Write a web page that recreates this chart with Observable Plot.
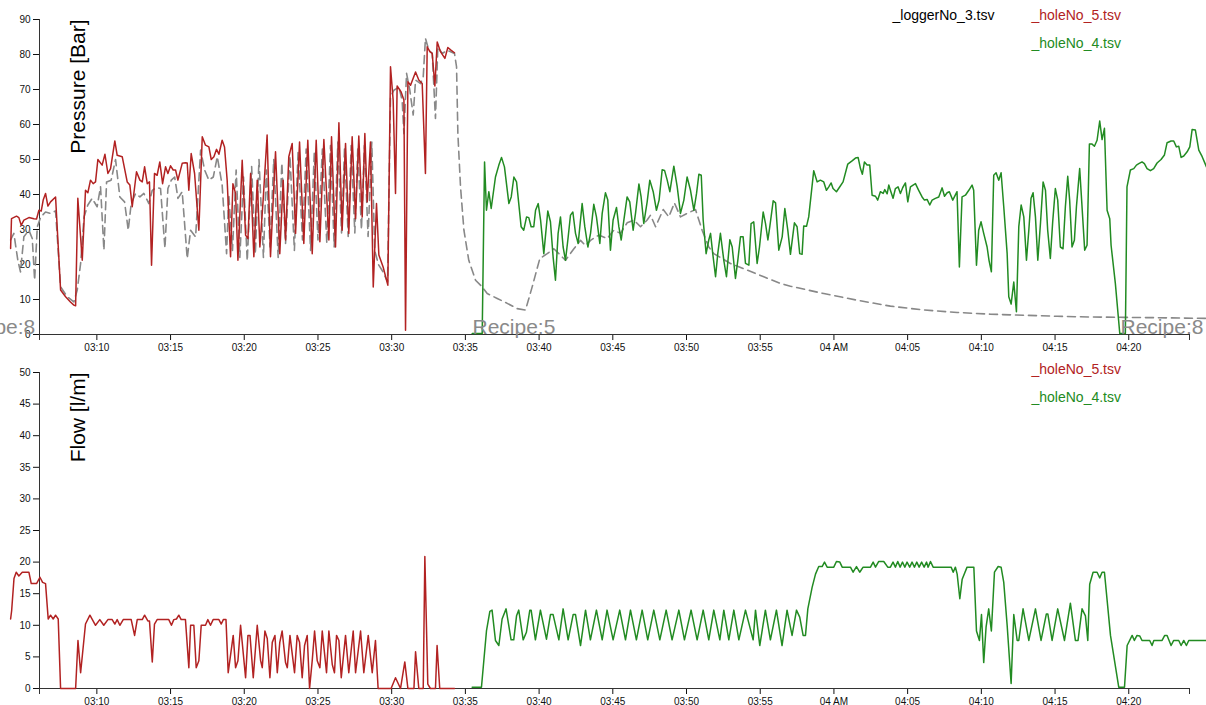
<!DOCTYPE html>
<html><head><meta charset="utf-8">
<script src="https://cdn.jsdelivr.net/npm/d3@7"></script>
<script src="https://cdn.jsdelivr.net/npm/@observablehq/plot@0.6"></script>
<style>
html,body{margin:0;padding:0;background:#fff;overflow:hidden}
#chart svg{display:block}
</style></head><body><div id="chart"></div>
<script>
// Times are minutes after 03:00.
const xStartMin = 6.11, xEndMin = 84.12;

const pressHole5Min = [4.15,4.21,4.55,4.71,4.87,5.05,5.39,5.73,5.91,6.07,6.23,6.36,6.52,6.68,6.86,7.20,7.54,7.88,8.21,8.44,8.56,8.71,9.01,9.23,9.39,9.57,9.75,9.91,10.07,10.36,10.55,10.75,10.93,11.22,11.38,11.72,12.06,12.24,12.40,12.69,12.92,13.08,13.24,13.42,13.57,13.71,13.91,14.09,14.27,14.46,14.66,14.82,15.00,15.18,15.34,15.50,15.79,16.01,16.13,16.24,16.40,16.63,16.92,17.15,17.37,17.60,17.76,17.94,18.12,18.28,18.50,18.66,18.84,19.07,19.23,19.41,19.57,19.86,20.09,20.25,20.43,20.65,20.88,21.06,21.28,21.55,21.78,22.12,22.41,22.64,22.80,23.02,23.25,23.48,23.75,24.04,24.31,24.61,24.88,25.13,25.40,25.74,25.92,26.19,26.42,26.64,26.87,27.09,27.32,27.55,27.77,28.00,28.18,28.34,28.56,28.75,28.97,29.13,29.42,29.74,29.92,30.10,30.26,30.37,30.64,30.83,30.94,31.10,31.28,31.62,31.84,32.07,32.29,32.41,32.59,32.75,32.93,33.09,33.31,33.61,33.81,34.04,34.26];
const pressHole5Val = [24.6,33.1,33.8,33.4,31.2,32.7,33.4,33.1,33.0,35.5,35.3,38.4,40.3,36.7,37.9,39.3,12.7,10.8,9.3,8.4,8.2,38.9,21.2,41.2,40.5,44.1,43.1,43.6,50.0,48.4,51.5,46.0,47.4,55.3,51.2,50.8,43.6,42.7,36.5,46.5,44.1,43.6,47.9,43.1,43.6,19.8,46.0,45.5,49.3,43.1,47.9,46.0,48.2,47.0,47.0,44.1,48.9,49.1,49.0,41.2,51.7,46.0,29.8,56.5,54.1,53.6,50.0,50.8,52.9,51.5,55.5,53.6,44.1,22.2,43.1,40.3,21.2,49.8,28.4,27.4,46.0,22.2,44.1,25.0,38.4,57.0,22.2,52.2,23.1,44.1,27.0,50.8,54.6,28.9,55.0,26.0,55.5,23.1,55.5,26.5,55.7,27.0,56.5,25.0,60.5,29.8,54.6,28.9,56.5,33.1,56.7,33.6,57.4,37.9,55.0,13.6,37.4,22.7,19.3,14.1,76.5,67.0,40.3,71.0,69.3,67.0,1.2,72.2,71.2,75.0,72.7,71.7,46.0,82.2,80.8,80.3,71.0,83.6,80.8,78.9,82.0,81.2,80.5];

const pressLoggerMin = [4.15,4.37,4.64,4.82,5.05,5.39,5.62,5.78,5.96,6.20,6.52,6.86,7.20,7.54,7.99,8.44,8.67,8.90,9.13,9.39,9.68,10.02,10.25,10.48,10.66,10.97,11.27,11.56,11.88,12.13,12.33,12.63,12.92,13.19,13.53,13.76,14.05,14.32,14.62,14.82,15.05,15.28,15.50,15.79,16.13,16.36,16.70,17.04,17.31,17.60,17.90,18.17,18.50,18.80,18.95,19.2,19.45,19.7,19.95,20.2,20.5,20.75,21.0,21.3,21.5,21.75,22.0,22.3,22.55,22.8,23.1,23.4,23.65,23.95,24.2,24.5,24.75,25.0,25.3,25.6,25.85,26.1,26.35,26.6,26.8,27.05,27.25,27.5,27.7,27.95,28.15,28.4,28.65,28.85,29.1,29.4,29.72,29.92,30.15,30.49,30.71,30.83,31.01,31.23,31.46,31.62,31.96,32.14,32.29,32.52,32.75,32.97,33.13,33.43,33.77,34.26,34.40,34.49,34.67,34.90,35.23,35.69,36.14,36.48,37.16,37.84,38.51,39.08,39.53,40.05,40.55,41.00,41.34,41.79,42.36,42.81,43.15,43.49,44.05,44.62,45.07,45.52,45.97,46.43,46.88,47.33,47.56,47.90,48.42,48.80,49.18,49.59,50.04,50.61,51.06,51.51,51.85,52.98,54.11,55.24,56.37,57.05,59.31,61.57,63.83,66.10,68.36,70.62,72.88,75.14,77.40,79.66,81.92,85.27];
const pressLoggerVal = [27.0,28.9,21.2,17.9,27.9,29.8,27.4,15.5,30.8,33.6,35.0,34.6,35.3,13.6,10.8,9.3,12.7,20.3,33.6,37.0,38.9,36.5,42.2,24.1,43.6,44.1,50.0,39.3,37.9,29.8,37.4,40.3,39.3,40.3,37.4,41.2,42.0,41.7,24.6,41.7,44.1,45.0,38.9,40.8,21.7,29.8,27.9,52.7,47.0,44.1,45.0,50.8,42.7,23.1,40,24,47,22,45,21,48,23,50,22,47,25,50,22,49,26,51,24,52,27,53,24,52,27,53,26,54,25,55,29,53,28,54,29,53,30,54,28,55,24,20,18,15,67.9,69.8,70.7,66.9,57.4,74.6,69.8,62.7,72.7,71.7,73.6,84.6,81.2,80.3,61.7,82.2,80.3,81.2,80.3,76.5,57.4,42.2,29.8,21.2,15.5,13.6,11.7,10.3,8.9,7.4,7.0,13.6,21.7,23.1,24.5,23.1,21.2,24.5,26.9,25.4,26.9,28.4,27.4,29.8,28.9,31.9,32.7,30.8,32.7,34.1,30.8,35.7,33.6,37.6,33.6,34.6,35.7,29.8,25.0,23.1,20.3,18.4,16.5,14.6,13.8,11.7,9.8,8.1,7.0,6.3,5.8,5.5,5.2,5.0,4.9,4.8,4.6];

const pressHole4Min = [35.46,36.14,36.30,36.43,36.59,36.75,37.04,37.27,37.45,37.65,37.95,38.11,38.29,38.47,38.78,38.96,39.15,39.30,39.46,39.64,39.76,39.94,40.10,40.32,40.59,40.77,40.95,41.11,41.29,41.45,41.63,41.79,41.95,42.13,42.29,42.47,42.65,42.92,43.10,43.31,43.49,43.71,43.89,44.12,44.28,44.50,44.66,44.84,45.02,45.25,45.41,45.57,45.75,45.97,46.15,46.38,46.54,46.77,46.92,47.10,47.33,47.51,47.74,47.96,48.14,48.35,48.51,48.69,48.87,49.14,49.37,49.59,49.82,50.04,50.27,50.50,50.68,50.84,51.00,51.13,51.33,51.51,51.63,51.78,51.97,52.12,52.30,52.53,52.71,52.94,53.10,53.32,53.48,53.66,53.84,54.00,54.23,54.38,54.56,54.79,54.95,55.20,55.36,55.52,55.65,55.88,56.04,56.26,56.49,56.67,56.87,57.05,57.32,57.50,57.68,57.84,57.95,58.14,58.29,58.63,58.86,59.08,59.31,59.49,59.65,59.81,59.94,60.17,60.40,60.62,60.94,61.23,61.46,61.64,61.80,61.93,62.07,62.25,62.43,62.59,62.82,62.97,63.15,63.34,63.45,63.61,63.72,63.83,64.01,64.17,64.35,64.51,64.67,64.85,65.01,65.19,65.37,65.53,65.75,65.98,66.14,66.32,66.50,66.66,66.88,67.11,67.34,67.50,67.68,67.83,68.06,68.35,68.51,68.69,68.92,69.15,69.37,69.48,69.67,69.82,69.98,70.16,70.39,70.52,70.68,70.84,71.00,71.18,71.34,71.52,71.75,71.86,72.02,72.20,72.38,72.54,72.70,72.88,73.06,73.22,73.37,73.51,73.67,73.83,74.01,74.19,74.35,74.50,74.68,74.84,75.02,75.18,75.36,75.54,75.70,75.86,75.99,76.15,76.31,76.45,76.67,76.83,77.01,77.17,77.33,77.51,77.67,77.85,78.03,78.19,78.35,78.53,78.71,78.80,79.09,79.39,79.77,79.88,80.11,80.34,80.52,80.68,80.90,81.06,81.24,81.47,81.69,81.92,82.19,82.42,82.60,82.87,83.05,83.23,83.39,83.55,83.73,83.96,84.14,84.30,84.52,84.75,84.98,85.27];
const pressHole4Val = [0.3,0.3,49.3,35.5,40.8,36.0,45.0,48.4,50.6,47.9,37.4,39.3,45.0,43.6,30.8,29.8,33.6,33.4,30.8,30.8,35.5,37.4,32.7,23.1,35.3,32.2,22.2,15.5,28.9,33.6,25.0,21.2,27.0,34.1,35.0,28.9,26.0,37.4,30.8,25.0,28.9,37.2,33.6,26.0,34.6,40.5,38.4,24.1,32.7,36.3,30.8,27.0,32.7,39.3,37.9,29.8,34.6,43.0,39.3,31.7,37.9,44.1,40.8,35.5,38.4,47.1,46.9,44.1,40.8,48.1,42.2,34.6,38.4,45.0,41.2,35.5,40.3,45.8,45.5,32.7,23.1,27.0,28.9,23.1,16.5,23.1,28.9,21.2,16.5,27.1,25.0,16.0,21.2,27.9,27.9,20.3,19.8,31.7,32.2,20.3,25.0,35.0,31.7,27.0,30.8,38.2,37.6,24.1,27.9,36.0,29.8,22.9,31.9,30.8,23.1,22.9,31.0,30.9,33.6,46.8,43.6,44.1,43.6,41.2,42.2,43.3,41.7,40.8,42.2,43.6,48.7,49.6,50.4,50.6,47.4,45.8,49.3,48.4,48.4,39.8,39.5,38.4,40.8,40.3,41.4,40.2,42.7,41.2,38.9,41.7,42.2,40.3,42.0,43.3,37.9,42.2,42.7,43.1,41.2,39.3,38.4,38.6,37.0,38.4,38.9,39.3,41.9,39.5,40.5,40.8,38.4,40.8,19.3,39.3,39.8,41.2,42.7,41.2,19.8,29.8,32.2,28.9,25.0,21.2,17.9,45.5,46.2,44.1,46.2,36.5,23.1,10.8,8.7,15.0,6.5,30.8,37.0,33.6,21.2,29.8,38.9,40.5,33.6,21.2,31.7,43.6,41.2,29.8,21.7,32.2,41.7,38.4,25.0,24.5,36.5,45.2,38.4,25.0,26.9,36.5,47.4,36.5,24.1,25.5,54.4,54.4,53.8,55.5,61.0,55.7,58.9,35.5,33.1,25.5,14.6,0.3,0.3,42.2,47.0,47.4,48.4,48.8,49.3,48.8,47.4,46.8,47.4,49.0,50.0,51.3,54.8,55.3,55.3,53.6,53.8,50.6,51.0,52.2,53.6,58.6,58.4,52.7,50.8,47.9];

const flowHole5Min = [4.15,4.22,4.38,4.53,4.71,4.94,5.39,5.55,5.91,6.14,6.32,6.52,6.70,6.86,7.04,7.20,7.38,7.54,8.56,8.72,8.90,9.23,9.53,9.91,10.20,10.47,10.75,11.04,11.22,11.38,11.56,11.79,12.33,12.56,12.74,13.08,13.24,13.46,13.57,13.76,13.91,14.09,14.88,15.06,15.22,15.40,15.56,15.72,16.01,16.24,16.36,16.58,16.74,16.92,17.08,17.37,17.53,17.71,17.89,18.28,18.44,18.58,18.76,18.91,19.25,19.41,19.57,19.75,20.09,20.25,20.39,20.61,20.88,21.11,21.22,21.40,21.56,21.74,21.90,22.08,22.24,22.41,22.57,22.80,22.92,23.10,23.41,23.59,23.75,23.93,24.09,24.27,24.43,24.61,24.77,24.95,25.13,25.29,25.58,25.74,25.97,26.12,26.26,26.42,26.58,26.87,27.09,27.39,27.55,27.89,28.11,28.41,28.68,28.90,29.08,29.96,30.26,30.60,30.89,31.10,31.51,31.62,31.84,32.14,32.25,32.45,32.63,32.97,33.08,33.26,34.26];
const flowHole5Val = [11.0,12.3,17.4,18.4,17.8,18.4,18.4,16.6,16.6,17.6,16.8,16.6,11.0,11.6,11.0,11.6,11.0,0,0,7.6,2.5,10.2,11.6,10.0,10.9,10.0,10.9,10.9,10.2,10.9,10.0,10.9,10.9,8.4,10.9,10.9,11.6,10.7,10.7,4.2,10.2,10.9,10.9,10.0,10.9,11.0,11.6,10.9,10.9,3.3,10.0,10.0,3.3,4.4,10.0,10.0,10.9,10.0,10.9,10.9,10.2,10.9,10.9,2.5,8.4,3.3,4.4,10.0,1.7,8.4,8.4,1.7,10.0,4.4,3.3,9.1,7.9,1.7,7.3,8.4,2.5,7.3,9.1,4.1,3.3,8.4,2.5,8.4,7.3,1.7,6.8,8.4,0,4.4,9.1,4.4,3.3,9.1,2.5,9.1,3.8,2.5,8.4,7.6,1.7,8.4,2.5,9.1,2.5,9.1,2.5,8.4,2.5,7.6,0,0,1.7,0,4.2,0,0,5.8,0,0,20.9,0.7,0,0,6.8,0,0];

const flowHole4Min = [35.46,36.09,36.43,36.66,36.81,37.04,37.27,37.49,37.76,38.10,38.28,38.47,38.62,38.92,39.14,39.37,39.46,39.75,40.09,40.50,40.77,40.95,41.34,41.63,41.97,42.31,42.47,42.81,43.15,43.48,43.89,44.28,44.61,45.02,45.47,45.86,46.20,46.60,46.99,47.37,47.78,48.19,48.62,49.02,49.48,49.86,50.31,50.72,51.13,51.51,51.85,52.26,52.53,52.87,53.21,53.55,54.00,54.52,54.68,54.97,55.35,55.69,56.10,56.48,56.82,57.16,57.46,57.68,57.91,58.07,58.23,58.52,58.75,58.97,59.20,59.36,59.54,59.99,60.17,60.40,60.56,61.12,61.30,61.53,61.75,61.98,62.48,62.66,62.82,63.04,63.38,63.65,63.83,64.01,64.17,64.33,64.49,64.65,64.81,64.96,65.14,65.30,65.46,65.62,65.78,65.95,66.12,66.28,66.39,66.55,66.73,67.68,67.95,68.09,68.24,68.36,68.54,68.70,69.03,69.49,69.67,69.87,70.01,70.16,70.32,70.50,70.68,70.89,71.14,71.34,71.52,71.75,72.02,72.20,72.43,72.54,72.83,73.22,73.67,74.05,74.41,74.51,74.80,75.18,75.64,76.04,76.38,76.56,76.83,77.06,77.22,77.35,77.58,77.85,78.03,78.19,78.35,78.76,79.32,79.71,79.89,80.23,80.38,80.56,80.75,80.90,81.42,81.58,81.70,82.26,82.44,82.60,82.87,83.05,83.39,83.55,83.73,83.91,84.07,85.27];
const flowHole4Val = [0.2,0.2,9.1,12.2,12.4,7.6,6.8,11.0,12.6,7.7,7.7,11.5,12.4,7.7,8.9,12.4,12.4,7.7,12.4,7.8,11.7,11.7,7.7,12.6,7.7,11.7,11.7,6.8,12.4,7.7,12.4,7.7,12.4,7.7,12.4,7.7,12.4,7.7,12.4,7.7,12.4,7.7,12.4,7.7,12.4,7.7,12.4,7.7,12.4,7.7,12.4,7.7,12.4,7.7,12.4,7.7,12.4,7.7,12.4,6.8,12.4,7.7,12.4,6.8,12.4,8.4,12.4,11.3,8.4,8.4,12.6,16.0,18.1,19.3,19.3,20.0,19.2,19.2,20.1,20.0,19.2,19.2,18.4,19.3,18.4,19.2,19.2,20.0,19.2,20.1,20.1,19.2,19.2,20.0,19.2,20.1,19.2,20.0,19.2,20.0,19.2,20.0,19.2,20.0,19.2,20.0,19.2,20.0,19.2,20.1,19.2,19.2,19.2,18.4,19.2,18.1,14.2,17.3,19.2,19.2,9.1,7.6,11.7,4.1,9.7,12.6,9.1,18.4,19.3,19.2,16.8,10.0,0.8,11.7,7.6,7.6,12.6,7.6,12.6,7.6,11.8,11.8,7.6,12.6,7.6,13.5,7.6,7.6,12.6,11.5,7.6,16.5,18.4,18.4,17.5,18.4,18.4,8.4,0.2,0.2,6.8,8.4,7.6,8.4,8.3,7.6,7.6,6.8,7.6,7.6,8.4,8.4,6.8,7.6,7.6,6.8,7.6,6.8,7.6,7.6];

const recipeNames = ["Recipe:8", "Recipe:5", "Recipe:8"];
const recipeMin = [0.2, 35.48, 79.44];

const pressureTicks = [0,10,20,30,40,50,60,70,80,90];
const flowTicks = [0,5,10,15,20,25,30,35,40,45,50];
const pressureLegend = ["_loggerNo_3.tsv", "_holeNo_5.tsv", "_holeNo_4.tsv"];
const flowLegend = ["_holeNo_5.tsv", "_holeNo_4.tsv"];

// ---- build ----
const BASE = new Date(2017, 5, 1, 3, 0, 0);
const toDate = m => new Date(BASE.getTime() + Math.round(m * 60000));
const series = (mins, vals) => mins.map((m, i) => ({t: toDate(m), v: vals[i]}));
const xDomain = [toDate(xStartMin), toDate(xEndMin)];
const xTicks = d3.timeMinute.every(5).range(xDomain[0], xDomain[1]);
const fmtH = d3.timeFormat("%I %p"), fmtM = d3.timeFormat("%I:%M");
const tickFormat = d => d.getMinutes() === 0 ? fmtH(d) : fmtM(d);
const recipes = recipeMin.map((m, i) => ({t: toDate(m), name: recipeNames[i]}));

const FONT = "'Liberation Sans', Arial, Helvetica, sans-serif";
const RED = "#b22222", GREEN = "#228b22", GRAY = "#888", AXIS = "#333";

function axisMarks() {
  return [
    Plot.ruleY([0], {stroke: AXIS}),
    Plot.ruleX([xDomain[0]], {stroke: AXIS}),
    Plot.ruleX(xDomain, {y1: () => 0, y2: () => 0, insetBottom: -6, stroke: AXIS})
  ];
}

const pressurePlot = Plot.plot({
  width: 1206, height: 353,
  marginLeft: 39, marginRight: 17, marginTop: 19, marginBottom: 19,
  style: {fontFamily: FONT, fontSize: "10px", color: "#111", background: "#fff"},
  x: {type: "time", domain: xDomain, ticks: xTicks, tickFormat, label: null, tickSize: 6},
  y: {domain: [0, 90], ticks: pressureTicks, label: null, tickSize: 6},
  marks: [
    ...axisMarks(),
    Plot.line(series(pressLoggerMin, pressLoggerVal), {x: "t", y: "v", stroke: GRAY, strokeWidth: 1.6, strokeDasharray: "8,5"}),
    Plot.line(series(pressHole5Min, pressHole5Val), {x: "t", y: "v", stroke: RED, strokeWidth: 1.5}),
    Plot.line(series(pressHole4Min, pressHole4Val), {x: "t", y: "v", stroke: GREEN, strokeWidth: 1.5}),
    Plot.text(recipes, {x: "t", text: "name", frameAnchor: "bottom", textAnchor: "start", lineAnchor: "bottom", dy: -1, fontSize: 21, fill: "#8a8a8a"}),
    Plot.text(["Pressure [Bar]"], {frameAnchor: "top-left", dx: 31, rotate: -90, textAnchor: "end", lineAnchor: "top", fontSize: 21, fill: "#000"}),
    Plot.text([pressureLegend[0]], {frameAnchor: "top-left", dx: 853, dy: 0, textAnchor: "start", lineAnchor: "bottom", fontSize: 14, fill: "#000"}),
    Plot.text([pressureLegend[1]], {frameAnchor: "top-left", dx: 992, dy: 0, textAnchor: "start", lineAnchor: "bottom", fontSize: 14, fill: RED}),
    Plot.text([pressureLegend[2]], {frameAnchor: "top-left", dx: 992, dy: 28, textAnchor: "start", lineAnchor: "bottom", fontSize: 14, fill: GREEN})
  ]
});

const flowPlot = Plot.plot({
  width: 1206, height: 352,
  marginLeft: 39, marginRight: 17, marginTop: 19, marginBottom: 17,
  style: {fontFamily: FONT, fontSize: "10px", color: "#111", background: "#fff"},
  x: {type: "time", domain: xDomain, ticks: xTicks, tickFormat, label: null, tickSize: 6},
  y: {domain: [0, 50], ticks: flowTicks, label: null, tickSize: 6},
  marks: [
    ...axisMarks(),
    Plot.line(series(flowHole5Min, flowHole5Val), {x: "t", y: "v", stroke: RED, strokeWidth: 1.5}),
    Plot.line(series(flowHole4Min, flowHole4Val), {x: "t", y: "v", stroke: GREEN, strokeWidth: 1.5}),
    Plot.text(["Flow [l/m]"], {frameAnchor: "top-left", dx: 31, rotate: -90, textAnchor: "end", lineAnchor: "top", fontSize: 21, fill: "#000"}),
    Plot.text([flowLegend[0]], {frameAnchor: "top-left", dx: 992, dy: 1, textAnchor: "start", lineAnchor: "bottom", fontSize: 14, fill: RED}),
    Plot.text([flowLegend[1]], {frameAnchor: "top-left", dx: 992, dy: 29, textAnchor: "start", lineAnchor: "bottom", fontSize: 14, fill: GREEN})
  ]
});

const root = document.getElementById("chart");
root.appendChild(pressurePlot);
root.appendChild(flowPlot);
</script>
</body></html>
